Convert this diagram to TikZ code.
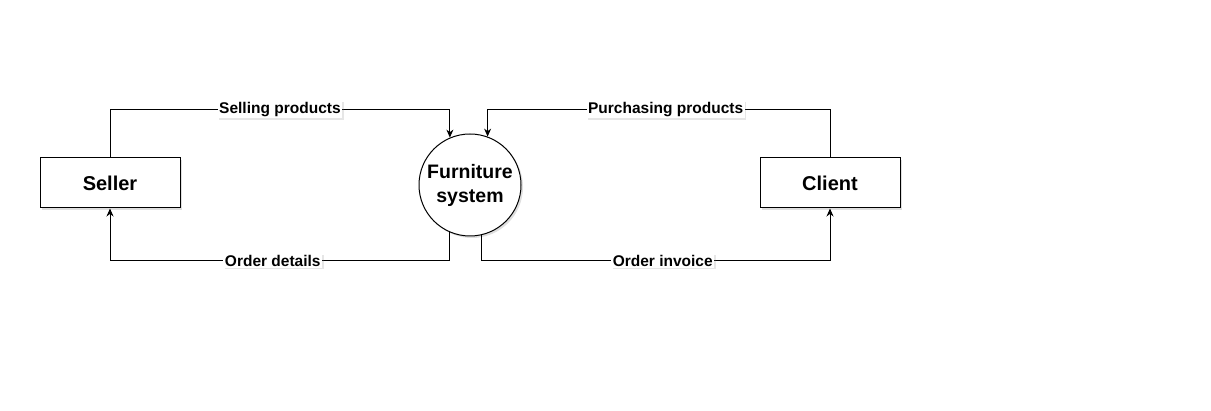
\documentclass[tikz,border=0pt]{standalone}
\usepackage{fontspec}
\setmainfont{Liberation Sans}
\usetikzlibrary{arrows.meta,shadows}
\begin{document}
\begin{tikzpicture}[x=1pt,y=-1pt,
  ent/.style={draw=black, line width=1pt, fill=white, minimum width=140pt, minimum height=50pt, inner sep=0pt,
    font=\fontsize{20}{23}\selectfont\bfseries,
    drop shadow={shadow xshift=2pt, shadow yshift=-2pt, opacity=0.25, fill=gray}},
  proc/.style={draw=black, line width=1pt, fill=white, circle, minimum size=102pt, inner sep=0pt, align=center,
    font=\fontsize{19.5}{24}\selectfont\bfseries,
    drop shadow={shadow xshift=2pt, shadow yshift=-2pt, opacity=0.25, fill=gray}},
  flow/.style={draw=black, line width=1pt, -{Stealth[length=8pt,width=7pt]}},
  lbl/.style={fill=white, inner sep=1.5pt, font=\fontsize{15.5}{18}\selectfont\bfseries,
    drop shadow={shadow xshift=1.5pt, shadow yshift=-1.5pt, opacity=0.2, fill=gray}}
]
\useasboundingbox (0,0) rectangle (1211,411);
\node[ent] (seller) at (110,183) {Seller};
\node[ent] (client) at (830,183) {Client};
\node[proc] (fs) at (470,185) {Furniture\\system};

\draw[flow] (seller.north) -- ++(0,-48) -| node[lbl, pos=0.25] (l1) {Selling products} (fs.113.1);

\draw[flow] (fs.246.9) |- node[lbl, pos=0.76] (l2) {Order details} ([yshift=-52pt]seller.south) -- (seller.south);

\draw[flow] (client.north) -- ++(0,-48) -| node[lbl, pos=0.24] (l3) {Purchasing products} (fs.70.5);

\draw[flow] (fs.283.6) |- node[lbl, pos=0.76] (l4) {Order invoice} ([yshift=-52pt]client.south) -- (client.south);
\end{tikzpicture}
\end{document}
